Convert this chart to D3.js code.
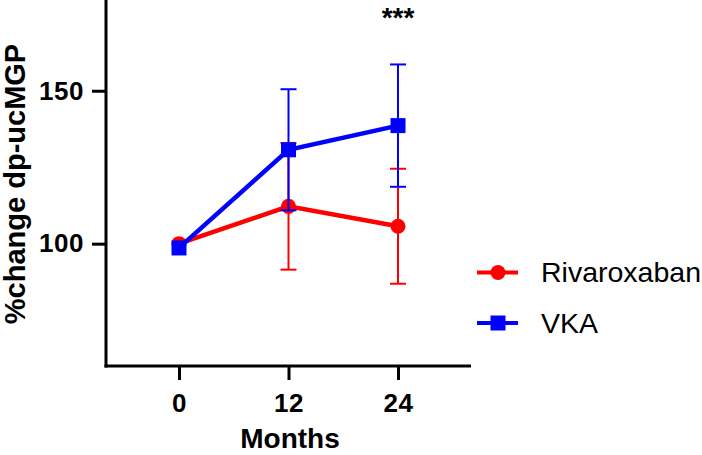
<!DOCTYPE html>
<html><head><meta charset="utf-8">
<script src="https://cdn.jsdelivr.net/npm/d3@7"></script>
<style>
body{margin:0;background:#fff;}
text{font-family:"Liberation Sans",Arial,sans-serif;}
</style></head>
<body><svg id="c" width="702" height="455"></svg>
<script>
const months = [0, 12, 24];
const xTicks = [0, 12, 24];
const yTicks = [100, 150];
const rivaroxabanMean = [100, 112.2, 105.7];
const rivaroxabanErr = [0, 20.7, 18.8];
const vkaMean = [98.6, 130.7, 138.6];
const vkaErr = [0, 19.8, 20.0];
const seriesNames = ["Rivaroxaban", "VKA"];
const seriesColors = ["#FF0000", "#0000FF"];
const significance = [{x: 24, label: "***"}];

const svg = d3.select("#c");
const x = d3.scaleLinear().domain([-8, 32]).range([106, 471]);
const y = d3.scaleLinear().domain([60, 180]).range([366, -1]);

// axes
const xAxis = svg.append("g").attr("transform", "translate(0,366)")
  .call(d3.axisBottom(x).tickValues(xTicks).tickSize(14).tickPadding(14).tickSizeOuter(0));
const yAxis = svg.append("g").attr("transform", "translate(106,0)")
  .call(d3.axisLeft(y).tickValues(yTicks).tickSize(14).tickPadding(8).tickSizeOuter(0));
[xAxis, yAxis].forEach(a => {
  a.select(".domain").attr("stroke", "#000").attr("stroke-width", 3);
  a.selectAll(".tick line").attr("stroke", "#000").attr("stroke-width", 3);
  a.selectAll(".tick text").attr("fill", "#000").style("font-size", "26px").style("font-weight", "bold")
   .style("letter-spacing", "0.5px")
   .style("font-family", "'Liberation Sans', Arial, sans-serif");
});
xAxis.select(".domain").attr("d", `M${x(-8)-1.5},0H${x(32)}`);
yAxis.select(".domain").attr("d", `M0,${y(60)+1.5}V${y(180)}`);

svg.append("text").attr("x", 290).attr("y", 448).attr("text-anchor", "middle")
  .style("font-size", "28px").style("font-weight", "bold").text("Months");
svg.append("text").attr("transform", "translate(25,184) rotate(-90)").attr("text-anchor", "middle")
  .style("font-size", "29px").style("font-weight", "bold").text("%change dp-ucMGP");

const series = [
  {name: seriesNames[0], color: seriesColors[0], mean: rivaroxabanMean, err: rivaroxabanErr, shape: "circle"},
  {name: seriesNames[1], color: seriesColors[1], mean: vkaMean, err: vkaErr, shape: "square"}
];

const line = d3.line().x((d, i) => x(months[i])).y(d => y(d));
series.forEach(s => {
  const g = svg.append("g");
  months.forEach((m, i) => {
    if (s.err[i] > 0) {
      const cx = x(m), lo = y(s.mean[i] - s.err[i]), hi = y(s.mean[i] + s.err[i]);
      g.append("line").attr("x1", cx).attr("x2", cx).attr("y1", lo).attr("y2", hi)
        .attr("stroke", s.color).attr("stroke-width", 2);
      [lo, hi].forEach(v => g.append("line").attr("x1", cx - 8).attr("x2", cx + 8).attr("y1", v).attr("y2", v)
        .attr("stroke", s.color).attr("stroke-width", 2));
    }
  });
  g.append("path").attr("d", line(s.mean)).attr("fill", "none").attr("stroke", s.color).attr("stroke-width", 4.5);
  months.forEach((m, i) => {
    if (s.shape === "circle") g.append("circle").attr("cx", x(m)).attr("cy", y(s.mean[i])).attr("r", 7.5).attr("fill", s.color);
    else g.append("rect").attr("x", x(m) - 7.5).attr("y", y(s.mean[i]) - 7.5).attr("width", 15).attr("height", 15).attr("fill", s.color);
  });
});

significance.forEach(s => svg.append("text").attr("x", x(s.x)).attr("y", 27).attr("text-anchor", "middle")
  .style("font-size", "28px").style("font-weight", "bold").text(s.label));

// legend
series.forEach((s, i) => {
  const ly = 272.5 + i * 50.5;
  const g = svg.append("g");
  g.append("line").attr("x1", 477).attr("x2", 518).attr("y1", ly).attr("y2", ly).attr("stroke", s.color).attr("stroke-width", 4);
  if (s.shape === "circle") g.append("circle").attr("cx", 498).attr("cy", ly).attr("r", 7.5).attr("fill", s.color);
  else g.append("rect").attr("x", 490.5).attr("y", ly - 7.5).attr("width", 15).attr("height", 15).attr("fill", s.color);
  g.append("text").attr("x", 541).attr("y", ly + 9.5).style("font-size", "28.5px").text(s.name);
});
</script></body></html>
